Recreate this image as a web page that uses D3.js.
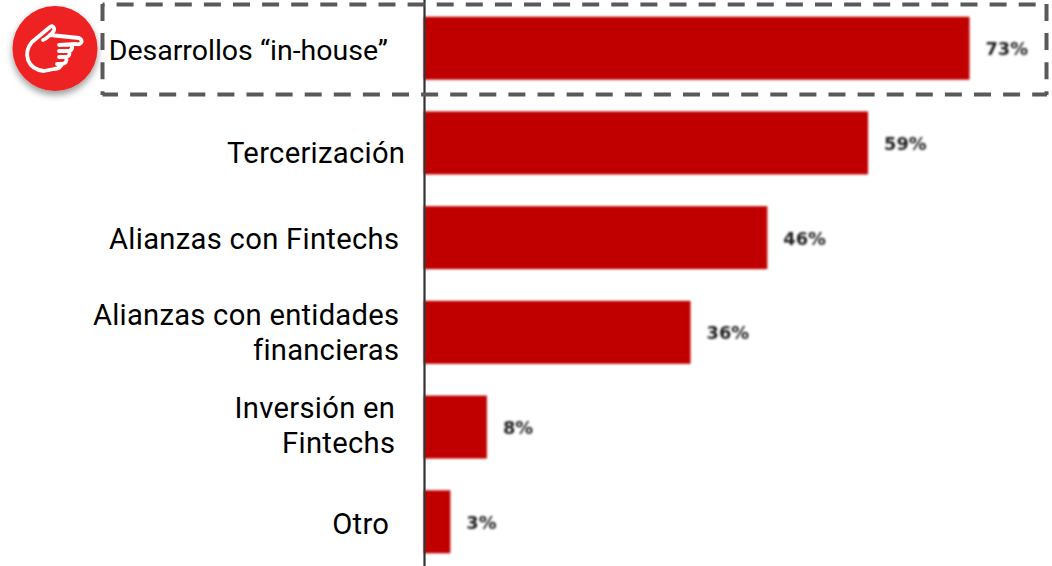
<!DOCTYPE html>
<html><head><meta charset="utf-8">
<script src="https://cdn.jsdelivr.net/npm/d3@7/dist/d3.min.js"></script>
<style>html,body{margin:0;padding:0;background:#fff}svg{display:block}</style>
</head><body><svg id="c" width="1052" height="566"></svg>
<script>
const categories = ["Desarrollos “in-house”","Tercerización","Alianzas con Fintechs","Alianzas con entidades financieras","Inversión en Fintechs","Otro"];
const categoryLines = [["Desarrollos “in-house”"],["Tercerización"],["Alianzas con Fintechs"],["Alianzas con entidades","financieras"],["Inversión en","Fintechs"],["Otro"]];
const labelRight = [388,405,399,399,395,389];
const labelNudge = [2,10,1,0,-2,2];
const labelSize = [28.5,29.2,29.2,29.2,29.2,29.2];
const labelSpacing = [0,0.3,0.3,0.25,0.3,0.3];
const values = [73,59.4,45.9,35.6,8.3,3.4];
const valueLabels = ["73%","59%","46%","36%","8%","3%"];

const svg = d3.select("#c");
const defs = svg.append("defs");
defs.append("filter").attr("id","soft").attr("x","-5%").attr("y","-5%").attr("width","110%").attr("height","110%")
  .append("feGaussianBlur").attr("stdDeviation",0.8);
defs.append("filter").attr("id","softText").attr("x","-20%").attr("y","-20%").attr("width","140%").attr("height","140%")
  .append("feGaussianBlur").attr("stdDeviation",0.9);
const sh = defs.append("filter").attr("id","shadow").attr("x","-30%").attr("y","-30%").attr("width","160%").attr("height","160%");
sh.append("feDropShadow").attr("dx",0).attr("dy",4).attr("stdDeviation",3.5).attr("flood-color","#000").attr("flood-opacity",0.4);

const x = d3.scaleLinear().domain([0,73]).range([425,969.5]);
const y = d3.scaleBand().domain(categories).range([1.5,569.5]).paddingInner(0.335).paddingOuter(0.166);

svg.append("g").attr("filter","url(#soft)").selectAll("rect").data(categories).join("rect")
  .attr("x",x(0)-1).attr("y",d=>y(d)-0.5).attr("width",(d,i)=>x(values[i])-x(0)+1).attr("height",y.bandwidth()).attr("fill","#c00000");

svg.append("rect").attr("x",423.4).attr("y",-3).attr("width",2.2).attr("height",572).attr("fill","#333");

svg.append("g").attr("filter","url(#softText)").selectAll("text").data(categories).join("text")
  .attr("x",(d,i)=>x(values[i])+16).attr("y",d=>y(d)+y.bandwidth()/2+6.5)
  .attr("font-family","'DejaVu Sans'").attr("font-weight","bold").attr("font-size",17.8).attr("fill","#222")
  .text((d,i)=>valueLabels[i]);

const lab = svg.append("g").attr("font-family","Roboto").attr("fill","#000").attr("text-anchor","end");
categories.forEach((c,i)=>{
  const ls = categoryLines[i], cy = y(c)+y.bandwidth()/2;
  ls.forEach((t,j)=>lab.append("text").attr("x",labelRight[i]+labelSpacing[i]).attr("y",cy+9.5+labelNudge[i]+(j-(ls.length-1)/2)*35)
    .attr("font-size",labelSize[i]).attr("letter-spacing",labelSpacing[i]).text(t));
});

const box = svg.append("g").attr("stroke","#595959").attr("stroke-width",4).attr("stroke-dasharray","17 12.1");
[[102.5,4.5,1047,4.5,15],[1046.5,4,1046.5,95,0],[102.5,94.5,1047,94.5,1.5],[102.5,4,102.5,95,0]].forEach(s=>
  box.append("line").attr("x1",s[0]).attr("y1",s[1]).attr("x2",s[2]).attr("y2",s[3]).attr("stroke-dashoffset",s[4]));

const icon = svg.append("g");
icon.append("circle").attr("cx",55).attr("cy",48.5).attr("r",42.5).attr("fill","#ee2222").attr("filter","url(#shadow)");
icon.append("path").attr("fill","none").attr("stroke","#fff").attr("stroke-width",3.8).attr("stroke-linejoin","round").attr("stroke-linecap","round")
  .attr("d","M50,35 L79,38 Q83,40 81,43 Q79,45 76,44 L59,45 M72,45 Q73,50 69,51 L59,51 M69,51 Q71,56 66,57 L59,57 M66,57 Q68,63 62,64 L57,64 M62,64 Q60,69 54,69 L44,71 Q32,70 28,60 Q25,50 32,42 L50,27 Q53,25 54,28 Q55,31 50,35 Q46,39 43,40");
</script></body></html>
